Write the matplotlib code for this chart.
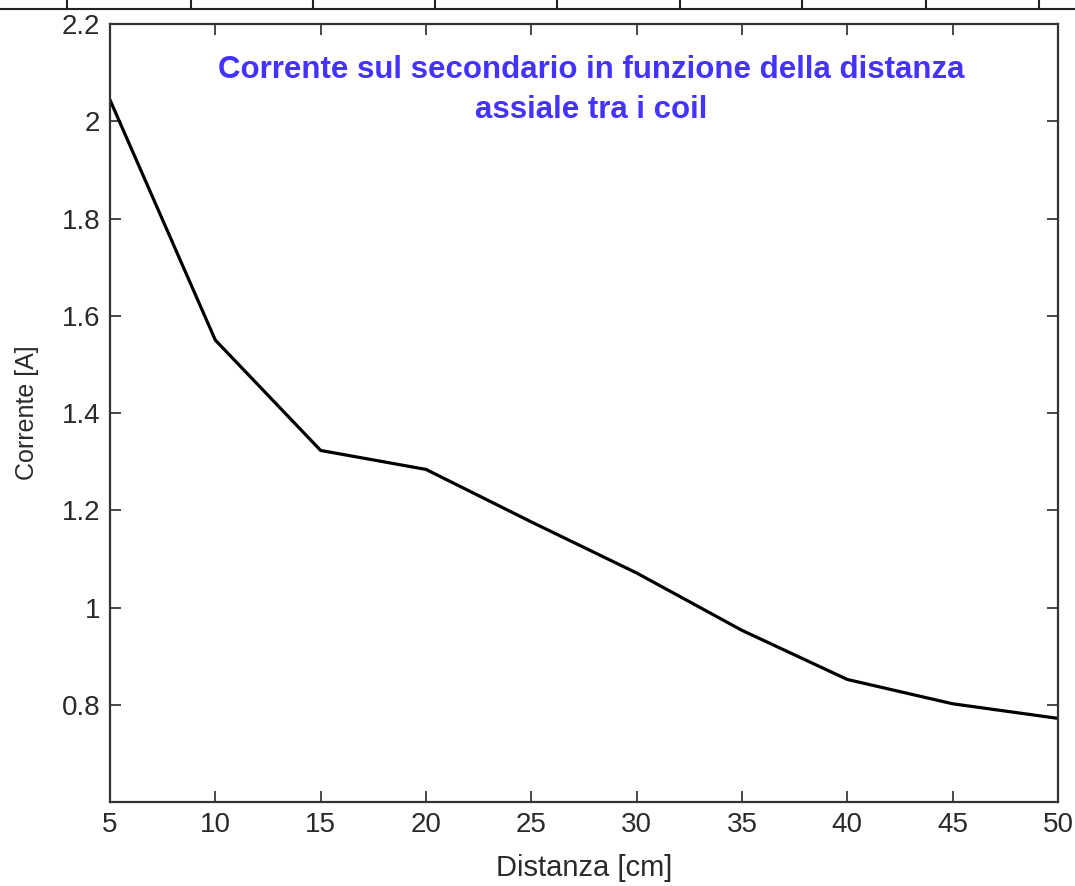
import matplotlib
matplotlib.use("Agg")
import matplotlib.pyplot as plt
from matplotlib.lines import Line2D

# distanza assiale tra i coil [cm] e corrente sul secondario [A]
distanza = [5, 10, 15, 20, 25, 30, 35, 40, 45, 50]
corrente = [2.044, 1.55, 1.323, 1.284, 1.176, 1.071, 0.953, 0.852, 0.802, 0.772]

y_ticks = [0.8, 1.0, 1.2, 1.4, 1.6, 1.8, 2.0, 2.2]
y_labels = ["0.8", "1", "1.2", "1.4", "1.6", "1.8", "2", "2.2"]
x_ticks = [5, 10, 15, 20, 25, 30, 35, 40, 45, 50]

plt.rcParams["font.family"] = ["Liberation Sans", "DejaVu Sans"]

fig = plt.figure(figsize=(10.75, 8.86), dpi=100)
ax = fig.add_axes([0.1023, 0.0948, 0.8819, 0.8781])

ax.plot(distanza, corrente, color="black", linewidth=2.3)

ax.set_xlim(5, 50)
ax.set_ylim(0.6, 2.2)
ax.set_xticks(x_ticks)
ax.set_yticks(y_ticks)
ax.set_yticklabels(y_labels)
ax.tick_params(direction="in", length=8, width=1.2, top=True, right=True,
               labelsize=20, colors="#2a2a2a", pad=7)
for sp in ax.spines.values():
    sp.set_linewidth(1.6)
    sp.set_color("#333333")

ax.set_xlabel("Distanza [cm]", fontsize=21, color="#2a2a2a", labelpad=12)
ax.set_ylabel("Corrente [A]", fontsize=18, color="#2a2a2a", labelpad=16)

ax.text(0.508, 0.96, "Corrente sul secondario in funzione della distanza\nassiale tra i coil",
        transform=ax.transAxes, ha="center", va="top", fontsize=22.5,
        fontweight="bold", color="#4433ff", linespacing=1.45)

# bordo superiore con le divisioni
fig.add_artist(Line2D([0, 1], [0.9898, 0.9898], transform=fig.transFigure,
                      color="#222222", linewidth=1.5))
for xc in [67, 191, 313, 435, 557, 680, 802, 926, 1039]:
    fig.add_artist(Line2D([xc / 1075, xc / 1075], [0.9898, 1.0],
                          transform=fig.transFigure, color="#222222", linewidth=1.5))

fig.savefig("out.png", dpi=100, facecolor="white")
